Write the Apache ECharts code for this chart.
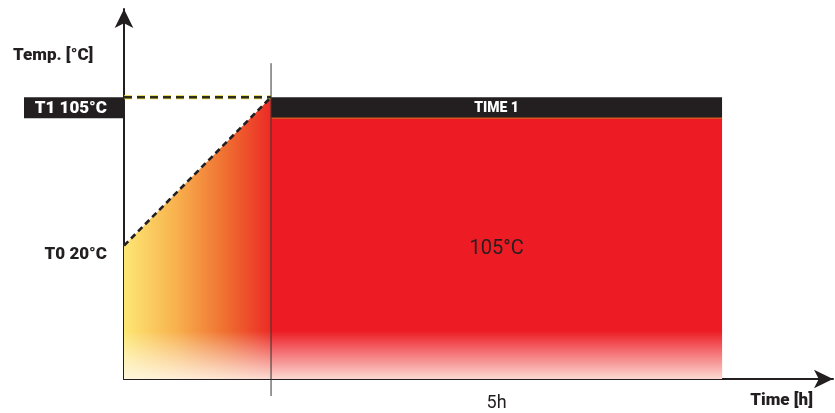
<!DOCTYPE html>
<html>
<head>
<meta charset="utf-8">
<script src="https://cdn.jsdelivr.net/npm/echarts@6/dist/echarts.min.js"></script>
<style>
    html, body { margin: 0; padding: 0; background: #fff; }
    #chart { width: 835px; height: 413px; }
</style>
</head>
<body>
<div id="chart"></div>
<script>

// profile points: start, end of ramp, end of hold
const times = [0, 1.63, 6.63];          // h
const temps = [20, 105, 105];           // °C
const tempLabels = ['T0 20°C', 'T1 105°C'];
const phaseLabels = ['TIME 1'];
const holdLabel = '5h';
const holdTempLabel = '105°C';
const axisNames = ['Time [h]', 'Temp. [°C]'];

const X_MAX = 7.86;
const Y_MIN = -56.4;
const Y_MAX = 155.5;

const INK = '#231f20';
const RED = '#ed1c24';
const FONT = 'Roboto';

const chart = echarts.init(document.getElementById('chart'));

const renderProfile = (params, api) => {

    const a = api.coord([times[0], temps[0]]);
    const b = api.coord([times[1], temps[1]]);
    const c = api.coord([times[2], temps[2]]);
    const top = api.coord([times[0], temps[1]]);
    const bottom = api.coord([0, Y_MIN])[1];
    const xEnd = api.coord([X_MAX, Y_MIN])[0];
    const band = 21;
    const fade = 48;

    const text = (str, x, y, opts) => ({
        type: 'text',
        style: Object.assign({
            text: str,
            x: x,
            y: y,
            fill: INK,
            fontFamily: FONT,
            fontSize: 16,
            fontWeight: 900,
            align: 'center',
            verticalAlign: 'middle',
        }, opts),
    });

    return {
        type: 'group',
        children: [
            {
                type: 'polygon',
                shape: { points: [[a[0], bottom], a, b, [b[0], bottom]] },
                style: {
                    fill: new echarts.graphic.LinearGradient(0, 0, 1, 0, [
                        { offset: 0, color: '#fde774' },
                        { offset: 0.35, color: '#f8b24e' },
                        { offset: 0.7, color: '#ef6d30' },
                        { offset: 1, color: '#ec2a26' },
                    ]),
                },
            },
            {
                type: 'rect',
                shape: { x: b[0], y: b[1] + band, width: c[0] - b[0], height: bottom - b[1] - band },
                style: { fill: RED },
            },
            {
                type: 'rect',
                shape: { x: a[0], y: bottom - fade, width: c[0] - a[0], height: fade },
                style: {
                    fill: new echarts.graphic.LinearGradient(0, 0, 0, 1, [
                        { offset: 0, color: 'rgba(255,255,255,0)' },
                        { offset: 1, color: 'rgba(255,250,240,0.85)' },
                    ]),
                },
            },
            {
                type: 'rect',
                shape: { x: b[0], y: b[1], width: c[0] - b[0], height: band },
                style: { fill: INK },
            },
            {
                type: 'line',
                shape: { x1: b[0], y1: b[1] + band, x2: c[0], y2: c[1] + band },
                style: { stroke: '#d9541e', lineWidth: 1.5 },
            },
            text(phaseLabels[0], (b[0] + c[0]) / 2, b[1] + band / 2 + 1, { fill: '#fff', fontSize: 14 }),
            {
                type: 'line',
                shape: { x1: top[0], y1: top[1], x2: b[0], y2: b[1] },
                style: { stroke: '#e3d53c', lineWidth: 4, lineDash: [8, 5] },
            },
            {
                type: 'line',
                shape: { x1: top[0], y1: top[1], x2: b[0], y2: b[1] },
                style: { stroke: '#2e2c1a', lineWidth: 2.4, lineDash: [8, 5] },
            },
            {
                type: 'line',
                shape: { x1: a[0], y1: a[1], x2: b[0], y2: b[1] },
                style: { stroke: INK, lineWidth: 2.6, lineDash: [6, 4] },
            },
            {
                type: 'line',
                shape: { x1: b[0], y1: b[1] - 34, x2: b[0], y2: bottom + 17 },
                style: { stroke: '#333', lineWidth: 1 },
            },
            {
                type: 'rect',
                shape: { x: a[0] - 100, y: top[1], width: 100, height: band },
                style: { fill: INK },
            },
            text(tempLabels[1], a[0] - 17, top[1] + band / 2 + 1, { fill: '#fff', align: 'right', fontSize: 17 }),
            text(tempLabels[0], a[0] - 17, a[1] + 9, { align: 'right', fontSize: 17 }),
            text(holdTempLabel, (b[0] + c[0]) / 2, (b[1] + band + bottom) / 2, { fontWeight: 'normal', fontSize: 20 }),
            text(holdLabel, (b[0] + c[0]) / 2, bottom + 24, { fontWeight: 'normal', fontSize: 18 }),
            text(axisNames[1], a[0] - 111, top[1] - 41, { align: 'left', fontSize: 17 }),
            text(axisNames[0], xEnd - 20, bottom + 22, { align: 'right', fontSize: 17 }),
        ],
    };
};

chart.setOption({
    animation: false,
    grid: { left: 124, right: 2, top: 9, bottom: 34 },
    xAxis: {
        type: 'value',
        min: 0,
        max: X_MAX,
        axisLine: {
            onZero: false,
            symbol: ['none', 'arrow'],
            symbolSize: [14, 19],
            lineStyle: { color: INK, width: 2 },
        },
        axisTick: { show: false },
        axisLabel: { show: false },
        splitLine: { show: false },
    },
    yAxis: {
        type: 'value',
        min: Y_MIN,
        max: Y_MAX,
        axisLine: {
            show: true,
            onZero: false,
            symbol: ['none', 'arrow'],
            symbolSize: [14, 19],
            lineStyle: { color: INK, width: 2 },
        },
        axisTick: { show: false },
        axisLabel: { show: false },
        splitLine: { show: false },
    },
    series: [
        {
            type: 'custom',
            clip: false,
            renderItem: renderProfile,
            data: [[times[0], temps[0]]],
            z: 1,
        },
    ],
});

</script>
</body>
</html>
